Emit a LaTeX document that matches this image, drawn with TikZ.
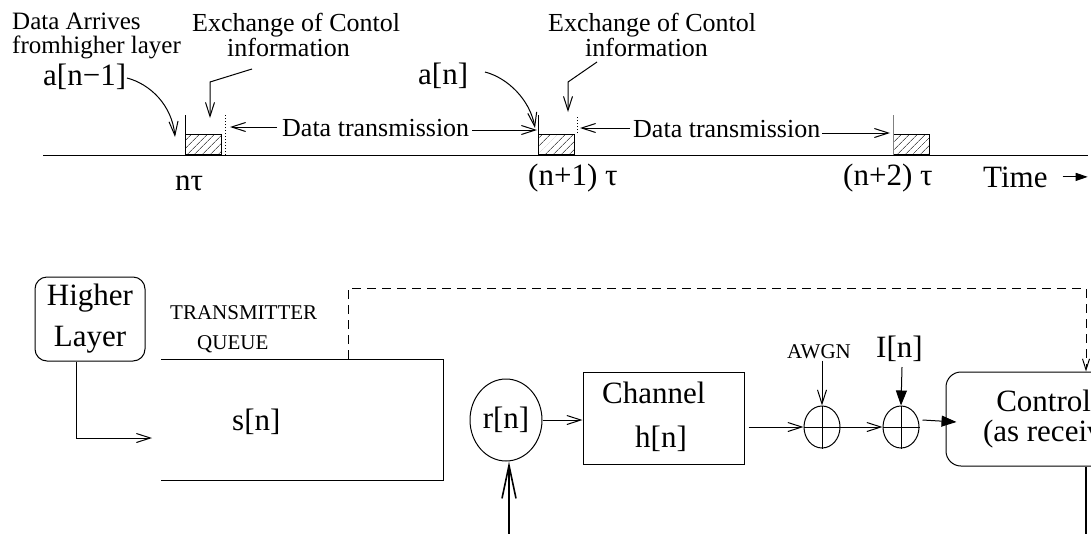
\documentclass[tikz,border=0pt]{standalone}
\usepackage{fontspec}
\setmainfont{Liberation Serif}
\usetikzlibrary{arrows.meta,patterns.meta,shapes.geometric}
\begin{document}
\begin{tikzpicture}[x=1pt,y=-1pt,
  lbl/.style={inner sep=0pt,anchor=base west},
  big/.style={lbl,font=\fontsize{31}{33}\selectfont},
  mid/.style={lbl,font=\fontsize{26}{26}\selectfont},
  sml/.style={lbl,font=\fontsize{21}{21}\selectfont},
  arrlbl/.style={lbl,font=\fontsize{25}{25}\selectfont},
  ln/.style={line width=1pt},
  openhead/.style={ln,-{Straight Barb[length=14pt,width=9pt]}},
  fillhead/.style={ln,-{Triangle[length=15pt,width=11pt]}},
  hatchbox/.style={draw,line width=0.8pt,inner sep=0pt,minimum width=36pt,minimum height=20pt,anchor=south west,
    pattern={Lines[angle=45,distance=5.4pt,line width=0.6pt]}},
  adder/.style={draw,ln,ellipse,inner sep=0pt,minimum width=36pt,minimum height=42pt},
  fb/.style={ln,dash pattern=on 9pt off 6pt},
]
\useasboundingbox (0,0) rectangle (1091,533);
\clip (0,0) rectangle (1091,533);

% ---------------- timeline ----------------
\coordinate (tl0) at (43,155);
\coordinate (tl1) at (1088,155);
\draw[ln] (tl0) -- (tl1);

\node[hatchbox] (h1) at (185,155) {};
\node[hatchbox] (h2) at (538,155) {};
\node[hatchbox] (h3) at (893,155) {};
\draw[ln] (h1.south west) -- ++(0,-40);
\draw[ln] (h2.south west) -- ++(0,-40);
\draw[ln,gray] (h3.south west) -- ++(0,-40);
\draw[ln,dotted] (225,155) -- (225,115);
\draw[ln,dotted] (577,133) -- (577,115);

\node[arrlbl] (da) at (12,29) {Data Arrives};
\node[arrlbl] (fh) at (12,53) {fromhigher layer};
\node[big] (an1) at (43,85) {a[n−1]};
\node[mid] (ex1a) at (192,31) {Exchange of Contol};
\node[mid] (ex1b) at (227,56) {information};
\node[mid] (dt1) at (282,136) {Data transmission};
\node[big] (nt) at (175,190) {nτ};

\node[big] (an) at (418,84) {a[n]};
\node[mid] (ex2a) at (548,31) {Exchange of Contol};
\node[mid] (ex2b) at (585,56) {information};
\node[mid] (dt2) at (633,137) {Data transmission};
\node[big] (n1t) at (528,185) {(n+1) τ};
\node[big] (n2t) at (843,185) {(n+2) τ};
\node[big] (time) at (983,187) {Time};

\draw[openhead] (127,78) .. controls (150,84) and (172,105) .. (175,137);
\draw[openhead] (485,72) .. controls (508,78) and (530,100) .. (535,128);
\draw[openhead] (252,69) -- (210,82) -- (210,118);
\draw[openhead] (597,62) -- (568,82) -- (568,112);
\draw[openhead] (277,127) -- (230,127);
\draw[openhead] (472,130) -- (537,130);
\draw[openhead] (630,128) -- (580,128);
\draw[openhead] (822,133) -- (890,133);
\draw[ln,-{Triangle[length=12pt,width=8pt]}] ([xshift=15pt]time.east) -- ([xshift=40pt]time.east);

% ---------------- block diagram ----------------
\node[draw,ln,rounded corners=12pt,minimum width=110pt,minimum height=84pt,align=center,
      font=\fontsize{31}{41}\selectfont,inner sep=0pt] (hl) at (90,319) {Higher\\Layer};

\coordinate (qtl) at (161,359);
\coordinate (qtr) at (443,359);
\coordinate (qbr) at (443,480);
\coordinate (qbl) at (161,480);
\draw[ln] (qtl) -- (qtr) -- (qbr) -- (qbl);
\node[sml] (tq1) at (170,319) {TRANSMITTER};
\node[sml] (tq2) at (197,349) {QUEUE};
\node[big] (sn) at (232,430) {s[n]};
\coordinate (qin) at (152,438);
\draw[openhead] ([xshift=-14pt]hl.south) |- (qin);

\node[draw,ln,ellipse,inner sep=0pt,minimum width=72pt,minimum height=82pt,font=\fontsize{31}{33}\selectfont] (rn) at (506,420) {r[n]};
\coordinate (rin) at (509,545);
\draw[line width=1.6pt,-{Straight Barb[length=33pt,width=14pt]}] (rin) -- (rin |- rn.south);

\node[draw,ln,minimum width=161pt,minimum height=92pt] (ch) at (663.5,418) {};
\node[big] (chl) at (602,403) {Channel};
\node[big] (chh) at (635,447) {h[n]};
\draw[openhead] (rn.east) -- (rn.east -| ch.west);

\node[adder] (ad1) at (822,427) {};
\draw[ln] (ad1.west) -- (ad1.east) (ad1.north) -- (ad1.south);
\node[adder] (ad2) at (901,427) {};
\draw[ln] (ad2.west) -- (ad2.east) (ad2.north) -- (ad2.south);

\draw[openhead] ([xshift=4pt]ad1.west -| ch.east) -- (ad1.west);
\draw[openhead] (ad1.east) -- (ad2.west);

\node[sml] (awgn) at (787,358) {AWGN};
\draw[openhead] ([yshift=-2pt]ad1.north |- awgn.south) -- (ad1.north);
\node[big] (inn) at (876,357) {I[n]};
\draw[fillhead] (902,367) -- (ad2.north);

\node[draw,ln,rounded corners=15pt,minimum width=228pt,minimum height=94pt,align=center,
      font=\fontsize{31}{30}\selectfont,inner sep=0pt] (ctl) at (1060,419) {Controller\\(as receiver)};
\draw[fillhead] ([xshift=3pt,yshift=7pt]ad2.east) -- ([xshift=11pt,yshift=-3pt]ctl.west);

\coordinate (fbs) at (348,359);
\coordinate (fbx) at (1086,288);
\draw[fb,-{Straight Barb[length=11pt,width=7pt]}] (fbs) -- (fbs |- fbx) -- (fbx) -- (fbx |- ctl.north);
\coordinate (cout) at (1086,545);
\draw[line width=1.8pt] (cout |- ctl.south) -- (cout);
\end{tikzpicture}
\end{document}
